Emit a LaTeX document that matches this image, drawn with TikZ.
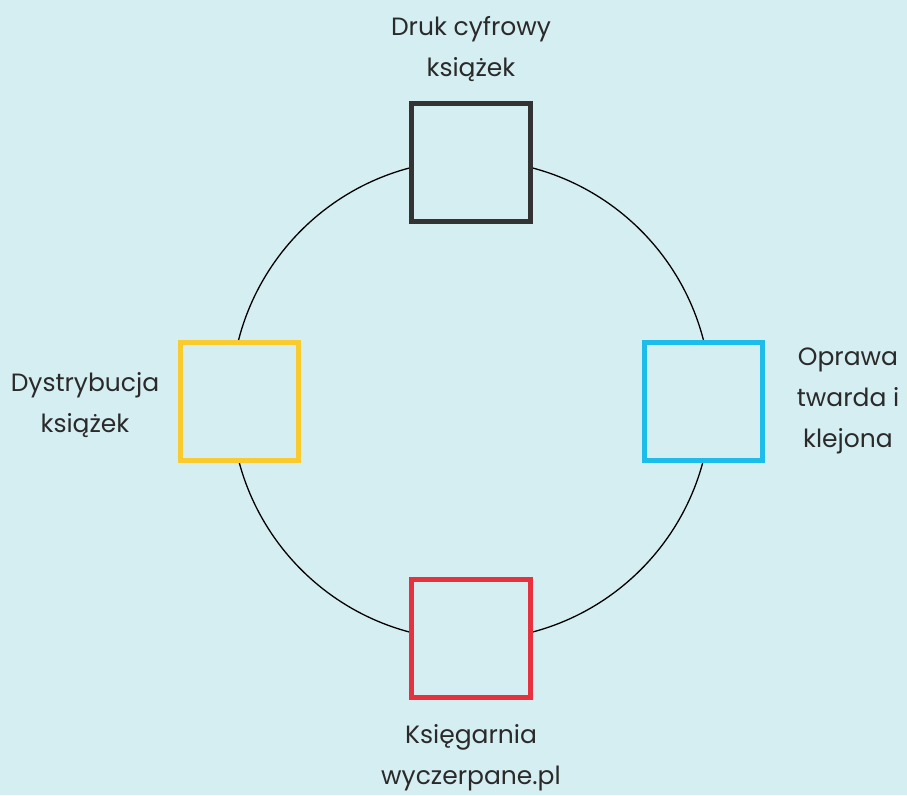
\documentclass[tikz,border=0pt]{standalone}
\usepackage{fontspec}
\setmainfont{Poppins}
\definecolor{bg}{HTML}{D5EEF2}
\definecolor{cdark}{HTML}{333333}
\definecolor{ccyan}{HTML}{1DBDEB}
\definecolor{cyellow}{HTML}{F9CB2E}
\definecolor{cred}{HTML}{E8313F}
\definecolor{ctext}{HTML}{2A2A2A}
\begin{document}
\begin{tikzpicture}[x=1pt,y=-1pt,
  sq/.style={draw,line width=5pt,fill=bg,minimum size=118.5pt,inner sep=0pt},
  lbl/.style={text=ctext,align=center,font=\fontsize{25}{41}\selectfont,inner sep=0pt}]
\fill[bg] (0,0) rectangle (907,795);
\useasboundingbox (0,0) rectangle (907,795);
\node[circle,draw,line width=1.3pt,minimum size=480pt,inner sep=0pt] (c) at (471,400) {};
\node[sq,draw=cdark] (top) at (471,162.5) {};
\node[sq,draw=ccyan] (right) at (703.5,401.5) {};
\node[sq,draw=cyellow] (left) at (239.5,401.5) {};
\node[sq,draw=cred] (bot) at (471,638.5) {};
\node[lbl] (ttop) at (471,49) {Druk cyfrowy\\książek};
\node[lbl] (tright) at (848,401) {Oprawa\\twarda i\\klejona};
\node[lbl] (tleft) at (85,405) {Dystrybucja\\książek};
\node[lbl] (tbot) at (471,758) {Księgarnia\\wyczerpane.pl};
\end{tikzpicture}
\end{document}
